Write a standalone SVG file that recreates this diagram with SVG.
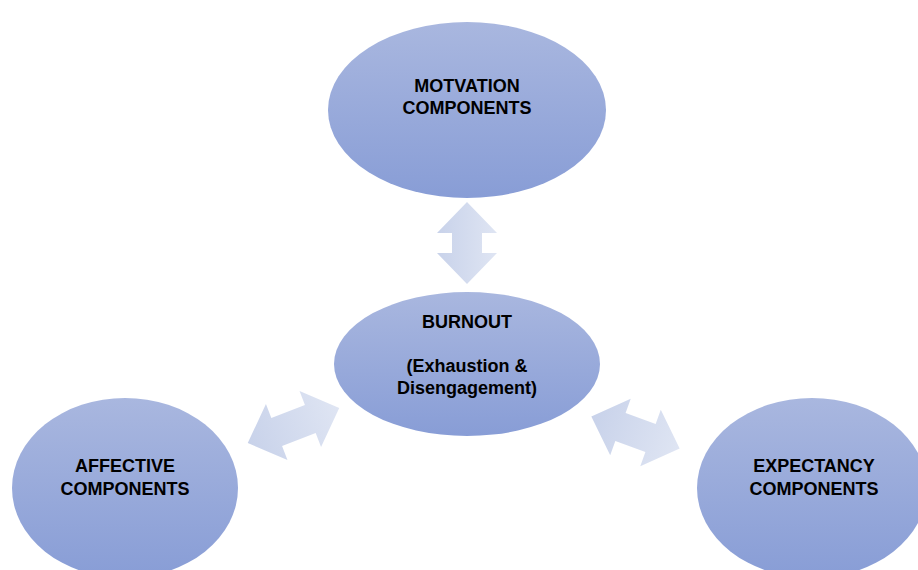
<svg xmlns="http://www.w3.org/2000/svg" width="918" height="570" viewBox="0 0 918 570">
<defs>
<linearGradient id="ellGrad" x1="0" y1="0" x2="0" y2="1">
<stop offset="0" stop-color="#a9b7df"/>
<stop offset="1" stop-color="#889dd6"/>
</linearGradient>
<linearGradient id="arrGrad" x1="0" y1="0" x2="1" y2="0">
<stop offset="0" stop-color="#c8d2ea"/>
<stop offset="1" stop-color="#dfe5f3"/>
</linearGradient>
<linearGradient id="arrGradV" x1="0" y1="1" x2="0" y2="0">
<stop offset="0" stop-color="#c8d2ea"/>
<stop offset="1" stop-color="#dfe5f3"/>
</linearGradient>
<style>
.node { fill: url(#ellGrad); }
.lbl { font-family: "Liberation Sans", Arial, sans-serif; font-weight: bold; font-size: 18px; fill: #000; text-anchor: middle; }
.arr { fill: url(#arrGrad); }
.arrv { fill: url(#arrGradV); }
</style>
</defs>
<rect width="918" height="570" fill="#ffffff"/>
<g id="connectors">
<path class="arrv" transform="translate(467,243) rotate(90)" d="M-41,0 L-10,-30 L-10,-15 L10,-15 L10,-30 L41,0 L10,30 L10,15 L-10,15 L-10,30 Z"/>
<path class="arr" transform="translate(293.5,425.5) rotate(-21)" d="M-49,0 L-18,-30 L-18,-15 L18,-15 L18,-30 L49,0 L18,30 L18,15 L-18,15 L-18,30 Z"/>
<path class="arr" transform="translate(635.5,432.5) rotate(20)" d="M-47,0 L-16,-30 L-16,-15 L16,-15 L16,-30 L47,0 L16,30 L16,15 L-16,15 L-16,30 Z"/>
</g>
<g id="motivation">
<ellipse class="node" cx="467" cy="110" rx="139" ry="88"/>
<text class="lbl" x="467" y="92">MOTVATION</text>
<text class="lbl" x="467" y="114">COMPONENTS</text>
</g>
<g id="burnout">
<ellipse class="node" cx="467" cy="364" rx="133" ry="72"/>
<text class="lbl" x="467" y="328">BURNOUT</text>
<text class="lbl" x="467" y="372">(Exhaustion &amp;</text>
<text class="lbl" x="467" y="394">Disengagement)</text>
</g>
<g id="affective">
<ellipse class="node" cx="125" cy="488" rx="113" ry="90"/>
<text class="lbl" x="125" y="472">AFFECTIVE</text>
<text class="lbl" x="125" y="495">COMPONENTS</text>
</g>
<g id="expectancy">
<ellipse class="node" cx="812" cy="488" rx="115" ry="90"/>
<text class="lbl" x="814" y="472">EXPECTANCY</text>
<text class="lbl" x="814" y="495">COMPONENTS</text>
</g>
</svg>
